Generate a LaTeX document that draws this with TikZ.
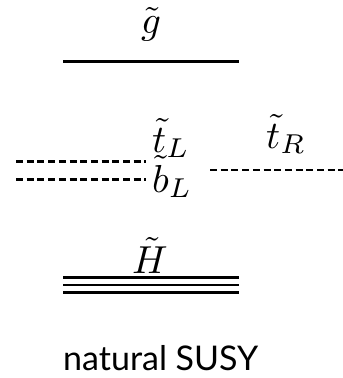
\documentclass[tikz,border=0pt]{standalone}
\usepackage{graphicx}
\usepackage{fontspec}
\newfontfamily\labelfont{Lato}
\newcommand{\sparticlelabel}[1]{\scalebox{3.9}{$#1$}}
\begin{document}
\begin{tikzpicture}[x=1pt,y=-1pt,
  lvl/.style={line width=2.5pt},
  dlvl/.style={line width=2.5pt,dash pattern=on 7pt off 3.7pt},
  mlab/.style={inner sep=0pt,anchor=base},
  captext/.style={inner sep=0pt,anchor=base,font=\labelfont\fontsize{34}{40}\selectfont}]
\useasboundingbox (0,0) rectangle (343,378);
% gluino
\coordinate (g1) at (63,61.5);
\coordinate (g2) at (239,61.5);
\draw[lvl] (g1) -- (g2);
\node[mlab] (gl) at (151,33) {\sparticlelabel{\tilde g}};
% left-handed squarks
\coordinate (tl1) at (16,161.3);
\coordinate (tl2) at (146,161.3);
\coordinate (bl1) at (16,179.3);
\coordinate (bl2) at (146,179.3);
\draw[dlvl] (tl1) -- (tl2);
\draw[dlvl] (bl1) -- (bl2);
\node[mlab,anchor=base west] (tL) at (152,152) {\sparticlelabel{\tilde t_L}};
\node[mlab,anchor=base west] (bL) at (152,192) {\sparticlelabel{\tilde b_L}};
% right-handed stop
\coordinate (tr1) at (210,170);
\coordinate (tr2) at (343,170);
\draw[dlvl] (tr1) -- (tr2);
\node[mlab,anchor=base west] (tR) at (266,148) {\sparticlelabel{\tilde t_R}};
% higgsinos
\coordinate (h1) at (63,277.3);
\coordinate (h2) at (239,277.3);
\coordinate (h3) at (63,285);
\coordinate (h4) at (239,285);
\coordinate (h5) at (63,292.5);
\coordinate (h6) at (239,292.5);
\draw[lvl] (h1) -- (h2);
\draw[lvl] (h3) -- (h4);
\draw[lvl] (h5) -- (h6);
\node[mlab] (H) at (150,273) {\sparticlelabel{\tilde H}};
% caption
\node[captext,anchor=base west] (c) at (63,370) {natural SUSY};
\end{tikzpicture}
\end{document}
